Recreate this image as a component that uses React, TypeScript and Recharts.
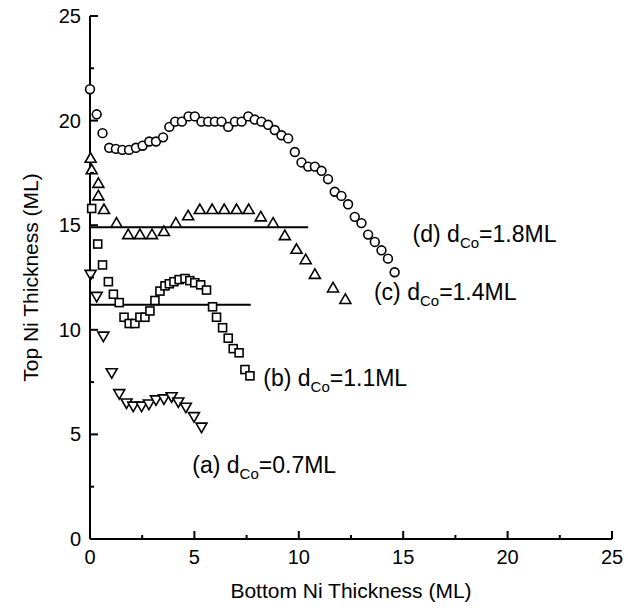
import { ScatterChart, Scatter, XAxis, YAxis, ReferenceLine, ReferenceDot } from 'recharts';

// (d) dCo = 1.8 ML, open circles
const seriesD = [
    { x: 0, y: 21.5 }, { x: 0.32, y: 20.3 }, { x: 0.6, y: 19.4 }, { x: 0.92, y: 18.7 },
    { x: 1.24, y: 18.65 }, { x: 1.55, y: 18.6 }, { x: 1.87, y: 18.6 }, { x: 2.2, y: 18.7 },
    { x: 2.52, y: 18.8 }, { x: 2.84, y: 19.0 }, { x: 3.16, y: 19.0 }, { x: 3.5, y: 19.2 },
    { x: 3.8, y: 19.7 }, { x: 4.08, y: 19.95 }, { x: 4.4, y: 19.95 }, { x: 4.72, y: 20.2 },
    { x: 5.02, y: 20.2 }, { x: 5.34, y: 19.95 }, { x: 5.66, y: 19.95 }, { x: 5.98, y: 19.95 },
    { x: 6.3, y: 19.95 }, { x: 6.62, y: 19.7 }, { x: 6.94, y: 19.95 }, { x: 7.26, y: 19.95 },
    { x: 7.58, y: 20.2 }, { x: 7.89, y: 20.05 }, { x: 8.21, y: 19.95 }, { x: 8.53, y: 19.8 },
    { x: 8.85, y: 19.55 }, { x: 9.17, y: 19.3 }, { x: 9.49, y: 19.15 }, { x: 9.81, y: 18.5 },
    { x: 10.13, y: 18.0 }, { x: 10.45, y: 17.8 }, { x: 10.77, y: 17.8 }, { x: 11.09, y: 17.6 },
    { x: 11.4, y: 17.2 }, { x: 11.72, y: 16.6 }, { x: 12.04, y: 16.4 }, { x: 12.36, y: 16.0 },
    { x: 12.68, y: 15.4 }, { x: 13.0, y: 15.1 }, { x: 13.32, y: 14.55 }, { x: 13.64, y: 14.2 },
    { x: 13.96, y: 13.8 }, { x: 14.27, y: 13.4 }, { x: 14.59, y: 12.75 },
];

// (c) dCo = 1.4 ML, open triangles
const seriesC = [
    { x: 0.03, y: 18.2 }, { x: 0.08, y: 17.65 }, { x: 0.4, y: 17.0 }, { x: 0.4, y: 16.4 },
    { x: 0.67, y: 15.75 }, { x: 1.27, y: 15.1 }, { x: 1.83, y: 14.55 }, { x: 2.39, y: 14.55 },
    { x: 2.97, y: 14.55 }, { x: 3.54, y: 14.7 }, { x: 4.11, y: 15.1 }, { x: 4.7, y: 15.45 },
    { x: 5.26, y: 15.75 }, { x: 5.85, y: 15.75 }, { x: 6.43, y: 15.75 }, { x: 7.02, y: 15.75 },
    { x: 7.6, y: 15.75 }, { x: 8.18, y: 15.4 }, { x: 8.77, y: 15.1 }, { x: 9.33, y: 14.5 },
    { x: 9.89, y: 13.85 }, { x: 10.33, y: 13.35 }, { x: 10.77, y: 12.65 }, { x: 11.64, y: 12.0 },
    { x: 12.23, y: 11.45 },
];

// (b) dCo = 1.1 ML, open squares
const seriesB = [
    { x: 0.08, y: 15.8 }, { x: 0.37, y: 14.1 }, { x: 0.6, y: 13.1 }, { x: 0.88, y: 12.3 },
    { x: 1.12, y: 11.7 }, { x: 1.4, y: 11.3 }, { x: 1.63, y: 10.6 }, { x: 1.88, y: 10.3 },
    { x: 2.15, y: 10.3 }, { x: 2.39, y: 10.6 }, { x: 2.63, y: 10.6 }, { x: 2.87, y: 10.9 },
    { x: 3.11, y: 11.4 }, { x: 3.35, y: 11.85 }, { x: 3.59, y: 12.1 }, { x: 3.8, y: 12.2 },
    { x: 4.02, y: 12.3 }, { x: 4.27, y: 12.4 }, { x: 4.55, y: 12.45 }, { x: 4.78, y: 12.35 },
    { x: 5.02, y: 12.25 }, { x: 5.3, y: 12.15 }, { x: 5.58, y: 11.9 }, { x: 5.87, y: 11.1 },
    { x: 6.06, y: 10.6 }, { x: 6.35, y: 10.1 }, { x: 6.62, y: 9.6 }, { x: 6.86, y: 9.1 },
    { x: 7.14, y: 8.9 }, { x: 7.42, y: 8.1 }, { x: 7.66, y: 7.8 },
];

// (a) dCo = 0.7 ML, open down-triangles
const seriesA = [
    { x: 0.03, y: 12.65 }, { x: 0.32, y: 11.6 }, { x: 0.64, y: 9.7 }, { x: 1.04, y: 7.95 },
    { x: 1.4, y: 6.95 }, { x: 1.75, y: 6.5 }, { x: 2.07, y: 6.35 }, { x: 2.47, y: 6.35 },
    { x: 2.82, y: 6.45 }, { x: 3.16, y: 6.65 }, { x: 3.54, y: 6.7 }, { x: 3.91, y: 6.8 },
    { x: 4.23, y: 6.55 }, { x: 4.59, y: 6.3 }, { x: 4.98, y: 5.85 }, { x: 5.34, y: 5.35 },
];

// horizontal guide lines for (c) and (b)
const guideC = { y: 14.9, x0: 0, x1: 10.45 };
const guideB = { y: 11.2, x0: 0, x1: 7.7 };

const axisTicks = [0, 2.5, 5, 7.5, 10, 12.5, 15, 17.5, 20, 22.5, 25];

const annotations = [
    { tag: '(d) d', sub: 'Co', rest: '=1.8ML', x: 15.45, y: 14.6 },
    { tag: '(c) d', sub: 'Co', rest: '=1.4ML', x: 13.6, y: 11.8 },
    { tag: '(b) d', sub: 'Co', rest: '=1.1ML', x: 8.3, y: 7.7 },
    { tag: '(a) d', sub: 'Co', rest: '=0.7ML', x: 4.9, y: 3.55 },
];

const FONT = '"Liberation Sans", Arial, sans-serif';
const INK = '#000';

const isMajor = (v: number) => v % 5 === 0;

function BottomTick({ x, y, payload }: any) {
    const len = isMajor(payload.value) ? 8 : 4;
    return (
        <g>
            <line x1={x} y1={y} x2={x} y2={y - len} stroke={INK} strokeWidth={2} />
            {isMajor(payload.value) && (
                <text x={x} y={y + 25} textAnchor="middle" fontSize={20} fontFamily={FONT} fill={INK}>
                    {payload.value}
                </text>
            )}
        </g>
    );
}

function TopTick({ x, y, payload }: any) {
    const len = isMajor(payload.value) ? 8 : 4;
    return <line x1={x} y1={y} x2={x} y2={y + len} stroke={INK} strokeWidth={2} />;
}

function LeftTick({ x, y, payload }: any) {
    const len = isMajor(payload.value) ? 8 : 4;
    return (
        <g>
            <line x1={x} y1={y} x2={x + len} y2={y} stroke={INK} strokeWidth={2} />
            {isMajor(payload.value) && (
                <text x={x - 9} y={y + 7} textAnchor="end" fontSize={20} fontFamily={FONT} fill={INK}>
                    {payload.value}
                </text>
            )}
        </g>
    );
}

function RightTick({ x, y, payload }: any) {
    const len = isMajor(payload.value) ? 8 : 4;
    return <line x1={x} y1={y} x2={x - len} y2={y} stroke={INK} strokeWidth={2} />;
}

const Circle = ({ cx, cy }: any) => (
    <circle cx={cx} cy={cy} r={4.4} fill="#fff" stroke={INK} strokeWidth={1.6} />
);
const Square = ({ cx, cy }: any) => (
    <rect x={cx - 4} y={cy - 4} width={8} height={8} fill="#fff" stroke={INK} strokeWidth={1.6} />
);
const TriUp = ({ cx, cy }: any) => (
    <polygon
        points={`${cx},${cy - 5.5} ${cx - 5.5},${cy + 4} ${cx + 5.5},${cy + 4}`}
        fill="#fff"
        stroke={INK}
        strokeWidth={1.6}
    />
);
const TriDown = ({ cx, cy }: any) => (
    <polygon
        points={`${cx},${cy + 5.5} ${cx - 5.5},${cy - 4} ${cx + 5.5},${cy - 4}`}
        fill="#fff"
        stroke={INK}
        strokeWidth={1.6}
    />
);

export default function App() {
    return (
        <div style={{ position: 'absolute', left: 0, top: 0, width: 628, height: 610, background: '#fff' }}>
            <ScatterChart width={628} height={610} margin={{ top: 16, right: 16, bottom: 0, left: 0 }}>
                <XAxis
                    type="number"
                    dataKey="x"
                    domain={[0, 25]}
                    ticks={axisTicks}
                    interval={0}
                    height={71}
                    tickSize={0}
                    tickMargin={0}
                    axisLine={{ stroke: INK, strokeWidth: 2 }}
                    tick={<BottomTick />}
                    label={{
                        content: ({ viewBox }: any) => (
                            <text
                                x={viewBox.x + viewBox.width / 2}
                                y={viewBox.y + 59}
                                textAnchor="middle"
                                fontSize={21}
                                fontFamily={FONT}
                                fill={INK}
                            >
                                Bottom Ni Thickness (ML)
                            </text>
                        ),
                    }}
                />
                <XAxis
                    xAxisId="top"
                    orientation="top"
                    type="number"
                    dataKey="x"
                    domain={[0, 25]}
                    ticks={axisTicks}
                    interval={0}
                    height={0}
                    tickSize={0}
                    tickMargin={0}
                    axisLine={{ stroke: INK, strokeWidth: 2 }}
                    tick={<TopTick />}
                />
                <YAxis
                    type="number"
                    dataKey="y"
                    domain={[0, 25]}
                    ticks={axisTicks}
                    interval={0}
                    width={90}
                    tickSize={0}
                    tickMargin={0}
                    axisLine={{ stroke: INK, strokeWidth: 2 }}
                    tick={<LeftTick />}
                    label={{
                        content: ({ viewBox }: any) => {
                            const cx = viewBox.x + 38;
                            const cy = viewBox.y + viewBox.height / 2;
                            return (
                                <text
                                    x={cx}
                                    y={cy}
                                    transform={`rotate(-90 ${cx} ${cy})`}
                                    textAnchor="middle"
                                    fontSize={21}
                                    fontFamily={FONT}
                                    fill={INK}
                                >
                                    Top Ni Thickness (ML)
                                </text>
                            );
                        },
                    }}
                />
                <YAxis
                    yAxisId="right"
                    orientation="right"
                    type="number"
                    dataKey="y"
                    domain={[0, 25]}
                    ticks={axisTicks}
                    interval={0}
                    width={0}
                    tickSize={0}
                    tickMargin={0}
                    axisLine={{ stroke: INK, strokeWidth: 2 }}
                    tick={<RightTick />}
                />

                <ReferenceLine
                    segment={[{ x: guideC.x0, y: guideC.y }, { x: guideC.x1, y: guideC.y }]}
                    stroke={INK}
                    strokeWidth={2}
                />
                <ReferenceLine
                    segment={[{ x: guideB.x0, y: guideB.y }, { x: guideB.x1, y: guideB.y }]}
                    stroke={INK}
                    strokeWidth={2}
                />

                <Scatter data={seriesD} shape={<Circle />} isAnimationActive={false} />
                <Scatter data={seriesC} shape={<TriUp />} isAnimationActive={false} />
                <Scatter data={seriesB} shape={<Square />} isAnimationActive={false} />
                <Scatter data={seriesA} shape={<TriDown />} isAnimationActive={false} />

                {annotations.map((a) => (
                    <ReferenceDot
                        key={a.tag}
                        x={a.x}
                        y={a.y}
                        r={0}
                        shape={({ cx, cy }: any) => (
                            <text x={cx} y={cy + 8} fontSize={23} fontFamily={FONT} fill={INK}>
                                {a.tag}
                                <tspan fontSize={15} dy={6}>{a.sub}</tspan>
                                <tspan dy={-6}>{a.rest}</tspan>
                            </text>
                        )}
                    />
                ))}
            </ScatterChart>
        </div>
    );
}
